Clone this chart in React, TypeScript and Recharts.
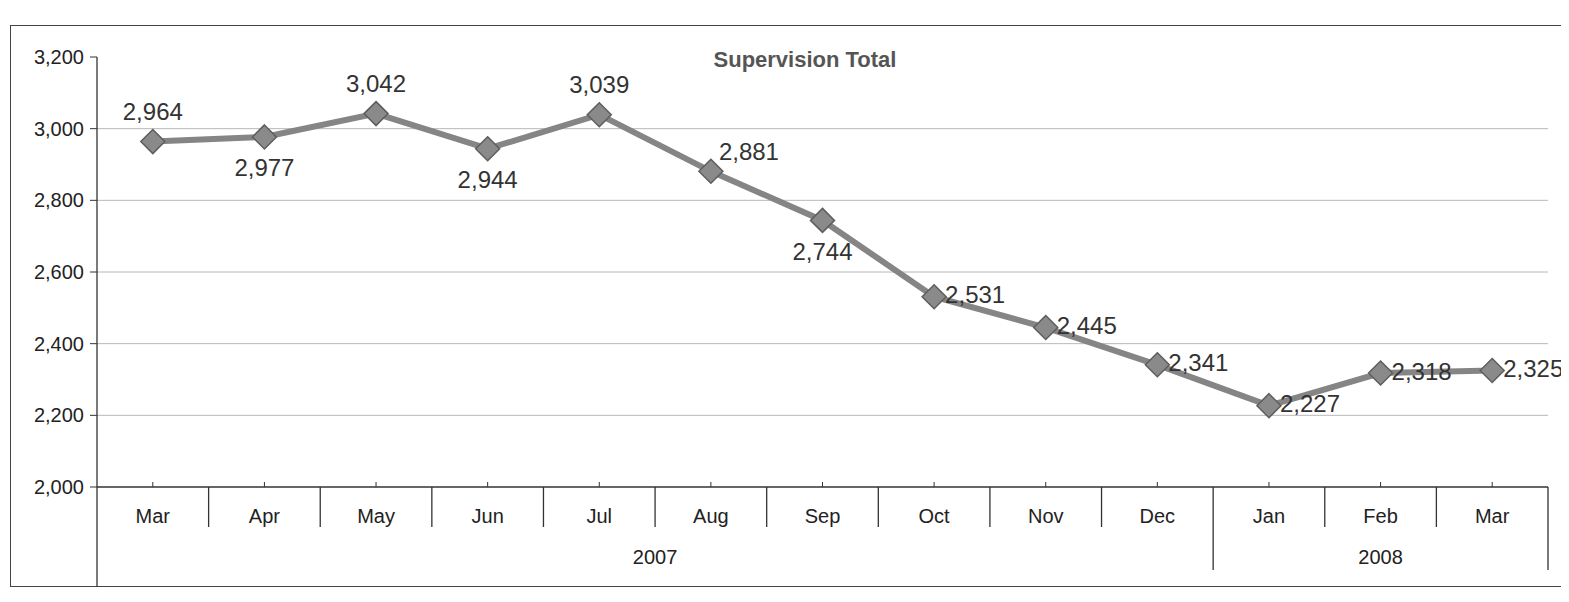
import { LineChart, Line, XAxis, YAxis, CartesianGrid, LabelList } from 'recharts';

const months = ['Mar', 'Apr', 'May', 'Jun', 'Jul', 'Aug', 'Sep', 'Oct', 'Nov', 'Dec', 'Jan', 'Feb', 'Mar'];
const years = ['2007', '2007', '2007', '2007', '2007', '2007', '2007', '2007', '2007', '2007', '2008', '2008', '2008'];
const totals = [2964, 2977, 3042, 2944, 3039, 2881, 2744, 2531, 2445, 2341, 2227, 2318, 2325];
const yTicks = [2000, 2200, 2400, 2600, 2800, 3000, 3200];
const gridValues = [2200, 2400, 2600, 2800, 3000];
// where each data label sits relative to its point
const labelSpots = ['top', 'bottom', 'top', 'bottom', 'top', 'topRight', 'bottom', 'right', 'right', 'right', 'right', 'right', 'right'];

const data = months.map((m, i) => ({ month: m, year: years[i], total: totals[i], key: i }));

const FONT = '"Liberation Sans", Arial, sans-serif';
const CHART_W = 1561;
const CHART_H = 580;
const MARGIN = { top: 49, right: 21, left: 9, bottom: 0 };
const Y_AXIS_W = 80;
const BAND = (CHART_W - MARGIN.left - MARGIN.right - Y_AXIS_W) / months.length;

const fmt = (v: number) => v.toLocaleString('en-US');

function MonthTick(props: any) {
  const { x, y, payload } = props;
  const i = payload.index;
  const last = i === months.length - 1;
  const yearEnds = last || years[i + 1] !== years[i];
  const yearStarts = i === 0 || years[i - 1] !== years[i];
  let yearLabel = null;
  if (yearStarts) {
    const count = years.filter((yy) => yy === years[i]).length;
    yearLabel = (
      <text x={x - BAND / 2 + (count * BAND) / 2} y={y + 70} textAnchor="middle" dominantBaseline="central"
        fontSize={20} fontFamily={FONT} fill="#222">
        {years[i]}
      </text>
    );
  }
  return (
    <g>
      <line x1={x} y1={y} x2={x} y2={y - 5} stroke="#333" strokeWidth={1} />
      <text x={x} y={y + 29} textAnchor="middle" dominantBaseline="central" fontSize={20} fontFamily={FONT} fill="#222">
        {payload.value}
      </text>
      <line x1={x + BAND / 2} y1={y} x2={x + BAND / 2} y2={y + (yearEnds ? 83 : 40)} stroke="#333" strokeWidth={1.3} />
      {i === 0 && <line x1={x - BAND / 2} y1={y} x2={x - BAND / 2} y2={y + 100} stroke="#333" strokeWidth={1.3} />}
      {yearLabel}
    </g>
  );
}

function Diamond(props: any) {
  const { cx, cy, index } = props;
  if (cx == null || cy == null) return null;
  const r = 12;
  return (
    <polygon key={index} points={`${cx},${cy - r} ${cx + r},${cy} ${cx},${cy + r} ${cx - r},${cy}`}
      fill="#8a8a8a" stroke="#5e5e5e" strokeWidth={1.5} />
  );
}

function PointLabel(props: any) {
  const { x, y, value, index } = props;
  const spot = labelSpots[index];
  let tx = x;
  let ty = y;
  let anchor: 'middle' | 'start' = 'middle';
  if (spot === 'top') ty = y - 30;
  else if (spot === 'bottom') ty = y + 31;
  else if (spot === 'topRight') { tx = x + 8; ty = y - 20; anchor = 'start'; }
  else { tx = x + 11; ty = y - 2; anchor = 'start'; }
  return (
    <text x={tx} y={ty} textAnchor={anchor} dominantBaseline="central" fontSize={24} fontFamily={FONT} fill="#333">
      {fmt(value)}
    </text>
  );
}

export default function App() {
  return (
    <div style={{ position: 'relative', width: CHART_W, height: CHART_H, fontFamily: FONT, background: '#fff' }}>
      <div style={{ position: 'absolute', left: 2, top: 17, width: CHART_W - 2, height: 560,
        borderTop: '1.5px solid #444', borderLeft: '1.5px solid #444', borderBottom: '1.5px solid #444' }} />
      <div style={{ position: 'absolute', left: 597, top: 39, width: 400, textAlign: 'center',
        fontSize: 22, fontWeight: 'bold', color: '#555', fontFamily: FONT }}>
        Supervision Total
      </div>
      <div style={{ position: 'absolute', left: 0, top: 0 }}>
        <LineChart width={CHART_W} height={CHART_H} data={data} margin={MARGIN}>
          <CartesianGrid horizontal vertical={false} horizontalValues={gridValues} stroke="#b8b8b8" strokeWidth={1} />
          <XAxis dataKey="month" xAxisId={0} interval={0} height={CHART_H - 479 - MARGIN.bottom} tickSize={0} tickMargin={0}
            padding={{ left: BAND / 2, right: BAND / 2 }}
            axisLine={{ stroke: '#333', strokeWidth: 1.3 }} tickLine={false} tick={<MonthTick />} />
          <YAxis domain={[2000, 3200]} ticks={yTicks} width={Y_AXIS_W} tickSize={7} tickMargin={6}
            tickFormatter={fmt} axisLine={{ stroke: '#333', strokeWidth: 1.3 }} tickLine={{ stroke: '#333' }}
            tick={{ fill: '#222', fontSize: 20, fontFamily: FONT }} />
          <Line type="linear" dataKey="total" stroke="#858585" strokeWidth={6} dot={<Diamond />}
            activeDot={false} isAnimationActive={false}>
            <LabelList dataKey="total" content={<PointLabel />} />
          </Line>
        </LineChart>
      </div>
    </div>
  );
}
